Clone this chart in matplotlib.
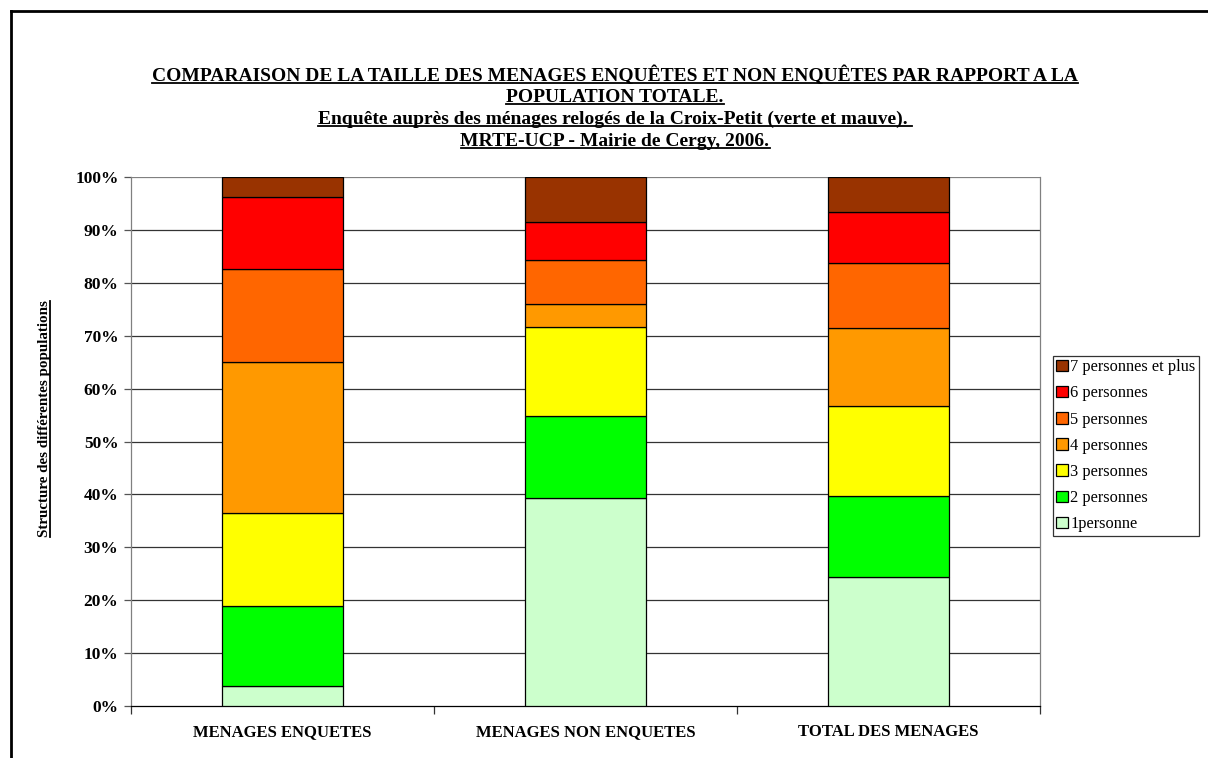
import matplotlib
matplotlib.use("Agg")
import matplotlib.pyplot as plt
from matplotlib.lines import Line2D
from matplotlib.patches import Patch
import numpy as np

categories = ["MENAGES ENQUETES", "MENAGES NON ENQUETES", "TOTAL DES MENAGES"]
series_names = ["1personne", "2 personnes", "3 personnes", "4 personnes",
                "5 personnes", "6 personnes", "7 personnes et plus"]
p1 = [3.7, 39.3, 24.3]
p2 = [15.2, 15.6, 15.4]
p3 = [17.5, 16.8, 17.1]
p4 = [28.7, 4.3, 14.7]
p5 = [17.5, 8.4, 12.2]
p6 = [13.6, 7.1, 9.6]
p7 = [3.8, 8.5, 6.7]
series_values = [p1, p2, p3, p4, p5, p6, p7]
colors = ["#CCFFCC", "#00FF00", "#FFFF00", "#FF9900", "#FF6600", "#FF0000", "#993300"]
ytick_labels = ["0%", "10%", "20%", "30%", "40%", "50%", "60%", "70%", "80%", "90%", "100%"]

title_lines = [
    "COMPARAISON DE LA TAILLE DES MENAGES ENQUÊTES ET NON ENQUÊTES PAR RAPPORT A LA",
    "POPULATION TOTALE.",
    "Enquête auprès des ménages relogés de la Croix-Petit (verte et mauve). ",
    "MRTE-UCP - Mairie de Cergy, 2006.",
]
ylabel = "Structure des différentes populations"

SERIF = ["Liberation Serif", "DejaVu Serif"]
plt.rcParams["font.family"] = SERIF

W, H = 1208, 758
fig = plt.figure(figsize=(W / 100, H / 100), dpi=100)

def fx(px):
    return px / W

def fy(py):
    return 1 - py / H

ax = fig.add_axes([fx(131), fy(706), fx(1040) - fx(131), fy(177) - fy(706)])

x = np.arange(len(categories))
bottom = np.zeros(len(categories))
handles = []
for name, vals, col in zip(series_names, series_values, colors):
    vals = np.array(vals, dtype=float)
    ax.bar(x, vals, 0.4, bottom=bottom, color=col, edgecolor="black",
           linewidth=0.9, zorder=3, label=name)
    bottom += vals
    handles.append(Patch(facecolor=col, edgecolor="black", linewidth=0.9, label=name))

ax.set_xlim(-0.5, 2.5)
ax.set_ylim(0, 100)
yt = np.arange(0, 101, 10)
ax.set_yticks(yt)
ax.set_yticklabels(ytick_labels, fontsize=12.5, fontweight="bold")
for v in yt[1:]:
    ax.axhline(v, color="#808080" if v == 100 else "#333333", linewidth=0.9, zorder=1)

ax.set_xticks([-0.5, 0.5, 1.5, 2.5])
ax.set_xticklabels([])
ax.set_xticks(x, minor=True)
ax.set_xticklabels(categories, minor=True, fontsize=12, fontweight="bold")
ax.tick_params(axis="x", which="major", direction="out", length=6, width=0.9, color="#333333")
ax.tick_params(axis="x", which="minor", length=0, pad=13)
ax.tick_params(axis="y", direction="out", length=5, width=0.9, color="#555555", pad=4)

ax.spines["top"].set_visible(False)
ax.spines["left"].set_color("#808080")
ax.spines["right"].set_color("#808080")
ax.spines["bottom"].set_color("black")
for s in ax.spines.values():
    s.set_linewidth(0.9)

leg = fig.legend(handles=handles[::-1], loc="upper left",
                 bbox_to_anchor=(fx(1053), fy(356)), frameon=True, fancybox=False,
                 fontsize=11.8, handlelength=0.7, handleheight=0.7, handletextpad=0.15,
                 labelspacing=0.62, borderpad=0.2, borderaxespad=0)
leg.get_frame().set_edgecolor("black")
leg.get_frame().set_linewidth(0.9)

# outer frame (left and top visible)
fig.add_artist(Line2D([fx(11), fx(11)], [0, fy(11)], color="black", linewidth=2))
fig.add_artist(Line2D([fx(11), 1], [fy(11), fy(11)], color="black", linewidth=2))

# title lines with underline
title_y = [75, 97, 119, 141]
texts = []
for line, yy in zip(title_lines, title_y):
    t = fig.text(fx(615), fy(yy), line, ha="center", va="center",
                 fontsize=14, fontweight="bold")
    texts.append(t)

yl = fig.text(fx(45), fy(419), ylabel, rotation=90, ha="center", va="center",
              fontsize=10.8, fontweight="bold")

fig.canvas.draw()
r = fig.canvas.get_renderer()
for t in texts:
    bb = t.get_window_extent(r)
    y0 = bb.y0 + 1.5
    fig.add_artist(Line2D([bb.x0 / W, bb.x1 / W], [y0 / H, y0 / H],
                          color="black", linewidth=1.3))
bb = yl.get_window_extent(r)
xline = bb.x1 - 1.5
fig.add_artist(Line2D([xline / W, xline / W], [bb.y0 / H, bb.y1 / H],
                      color="black", linewidth=1.3))

fig.savefig("out.png", dpi=100)
